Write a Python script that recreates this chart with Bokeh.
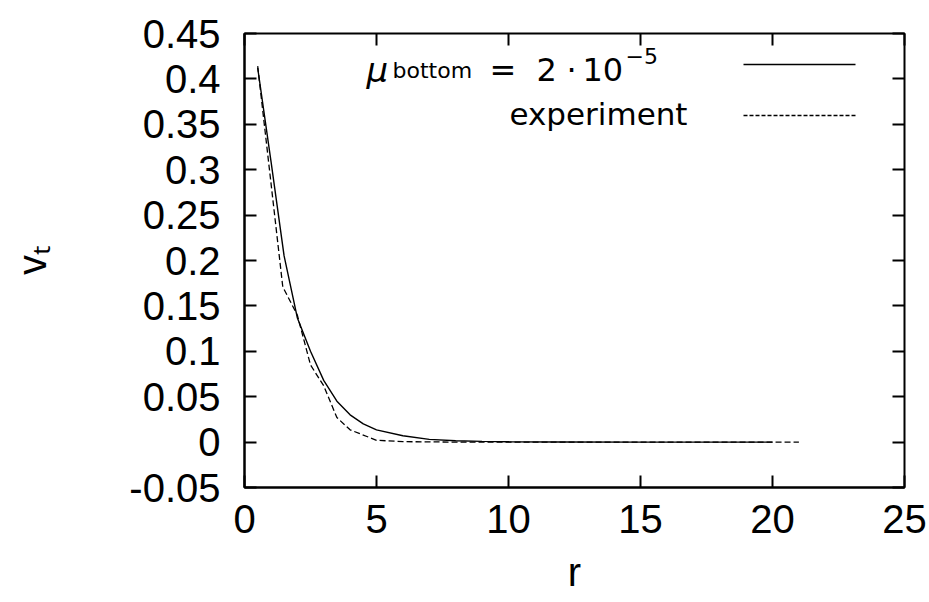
from bokeh.plotting import figure
from bokeh.models import LinearAxis, FixedTicker, Label, Range1d
from bokeh.embed import file_html
from bokeh.resources import INLINE

# Simulated tangential velocity profile (mu_bottom = 2e-5)
r_model = [0.5, 1.0, 1.5, 2.0, 2.5, 3.0, 3.5, 4.0, 4.5, 5.0, 6.0, 7.0, 8.0,
           9.0, 10.0, 12.0, 15.0, 20.0]
v_model = [0.412, 0.31, 0.205, 0.137, 0.100, 0.068, 0.045, 0.030, 0.020,
           0.0135, 0.007, 0.003, 0.0015, 0.0008, 0.0004, 0.0001, 0.0, 0.0]

# Measured profile
r_exp = [0.5, 1.45, 2.0, 2.5, 3.0, 3.5, 4.0, 5.0, 6.0, 8.0, 10.0, 15.0, 21.0]
v_exp = [0.414, 0.171, 0.140, 0.085, 0.062, 0.027, 0.0135, 0.002, 0.0005,
         0.0, 0.0, 0.0, 0.0]

x_ticks = [0, 5, 10, 15, 20, 25]
x_tick_labels = ["0", "5", "10", "15", "20", "25"]
y_ticks = [-0.05, 0, 0.05, 0.1, 0.15, 0.2, 0.25, 0.3, 0.35, 0.4, 0.45]
y_tick_labels = ["-0.05", "0", "0.05", "0.1", "0.15", "0.2", "0.25", "0.3",
                 "0.35", "0.4", "0.45"]

X_MIN, X_MAX = 0, 25
Y_MIN, Y_MAX = -0.05, 0.45

# frame placement in canvas pixels
W, H = 929, 602
FL, FR, FT, FB = 244, 904, 33, 487

TICK_FONT = "Liberation Sans"
KEY_FONT = "DejaVu Sans"


def px_x(px):
    return X_MIN + (px - FL) / (FR - FL) * (X_MAX - X_MIN)


def px_y(py):
    return Y_MIN + (FB - py) / (FB - FT) * (Y_MAX - Y_MIN)


p = figure(width=W, height=H,
           x_range=Range1d(X_MIN, X_MAX), y_range=Range1d(Y_MIN, Y_MAX),
           output_backend="svg", toolbar_location=None,
           min_border_left=FL, min_border_right=W - FR,
           min_border_top=FT, min_border_bottom=H - FB,
           x_axis_label="r", y_axis_label="vₜ")
p.grid.visible = False
p.background_fill_color = "white"
p.border_fill_color = "white"
p.outline_line_color = "black"
p.outline_line_width = 2

p.xaxis.ticker = FixedTicker(ticks=x_ticks)
p.yaxis.ticker = FixedTicker(ticks=y_ticks)
p.xaxis.major_label_overrides = dict(zip(x_ticks, x_tick_labels))
p.yaxis.major_label_overrides = dict(zip(y_ticks, y_tick_labels))

for ax in p.axis:
    ax.major_tick_in = 12
    ax.major_tick_out = 0
    ax.minor_tick_line_color = None
    ax.major_tick_line_width = 2
    ax.major_tick_line_color = "black"
    ax.axis_line_color = "black"
    ax.axis_line_width = 2
    ax.major_label_text_font = TICK_FONT
    ax.major_label_text_font_size = "40px"
    ax.major_label_text_color = "black"
    ax.axis_label_text_font = TICK_FONT
    ax.axis_label_text_font_size = "40px"
    ax.axis_label_text_font_style = "normal"
    ax.axis_label_text_color = "black"

p.xaxis.major_label_standoff = 17
p.xaxis.axis_label_standoff = 14
p.yaxis.major_label_standoff = 24
p.yaxis.axis_label_standoff = 72

# mirrored ticks on the top and right edges
top_axis = LinearAxis(ticker=FixedTicker(ticks=x_ticks),
                      major_label_overrides={t: "" for t in x_ticks})
right_axis = LinearAxis(ticker=FixedTicker(ticks=y_ticks),
                        major_label_overrides={t: "" for t in y_ticks})
for ax in (top_axis, right_axis):
    ax.major_tick_in = 12
    ax.major_tick_out = 0
    ax.minor_tick_line_color = None
    ax.major_tick_line_width = 2
    ax.major_tick_line_color = "black"
    ax.axis_line_color = None
    ax.major_label_text_font_size = "1px"
    ax.major_label_standoff = 0
p.add_layout(top_axis, "above")
p.add_layout(right_axis, "right")

# curves
p.line(r_model, v_model, line_color="black", line_width=1.4)
p.line(r_exp, v_exp, line_color="black", line_width=1.3, line_dash="6 3")

# key: text on the left, line sample on the right
KEY_X0, KEY_X1 = 743, 855
KEY_Y_MODEL, KEY_Y_EXP = 64, 115
p.line([px_x(KEY_X0), px_x(KEY_X1)], [px_y(KEY_Y_MODEL)] * 2,
       line_color="black", line_width=1.4)
p.line([px_x(KEY_X0), px_x(KEY_X1)], [px_y(KEY_Y_EXP)] * 2,
       line_color="black", line_width=1.3, line_dash="4 2")


def key_text(text, px, py, size, align="left", style="normal"):
    p.add_layout(Label(x=px_x(px), y=px_y(py), text=text,
                       text_font=KEY_FONT, text_font_size=size,
                       text_font_style=style, text_color="black",
                       text_align=align, text_baseline="alphabetic"))


# baselines sit a few pixels above the nominal key rows
BASE_1, SUP_1, BASE_2 = 69, 55, 113
key_text("μ", 366, BASE_1, "34px", style="italic")
key_text("bottom", 392, BASE_1 + 1, "22px")
key_text("=", 489, BASE_1, "32px")
key_text("2", 536, BASE_1, "32px")
key_text("·", 566, BASE_1, "32px")
key_text("10", 582, BASE_1, "32px")
key_text("−5", 625, SUP_1, "22px")
key_text("experiment", 687, BASE_2, "31px", align="right")

open("out.html", "w").write(file_html(p, INLINE))
